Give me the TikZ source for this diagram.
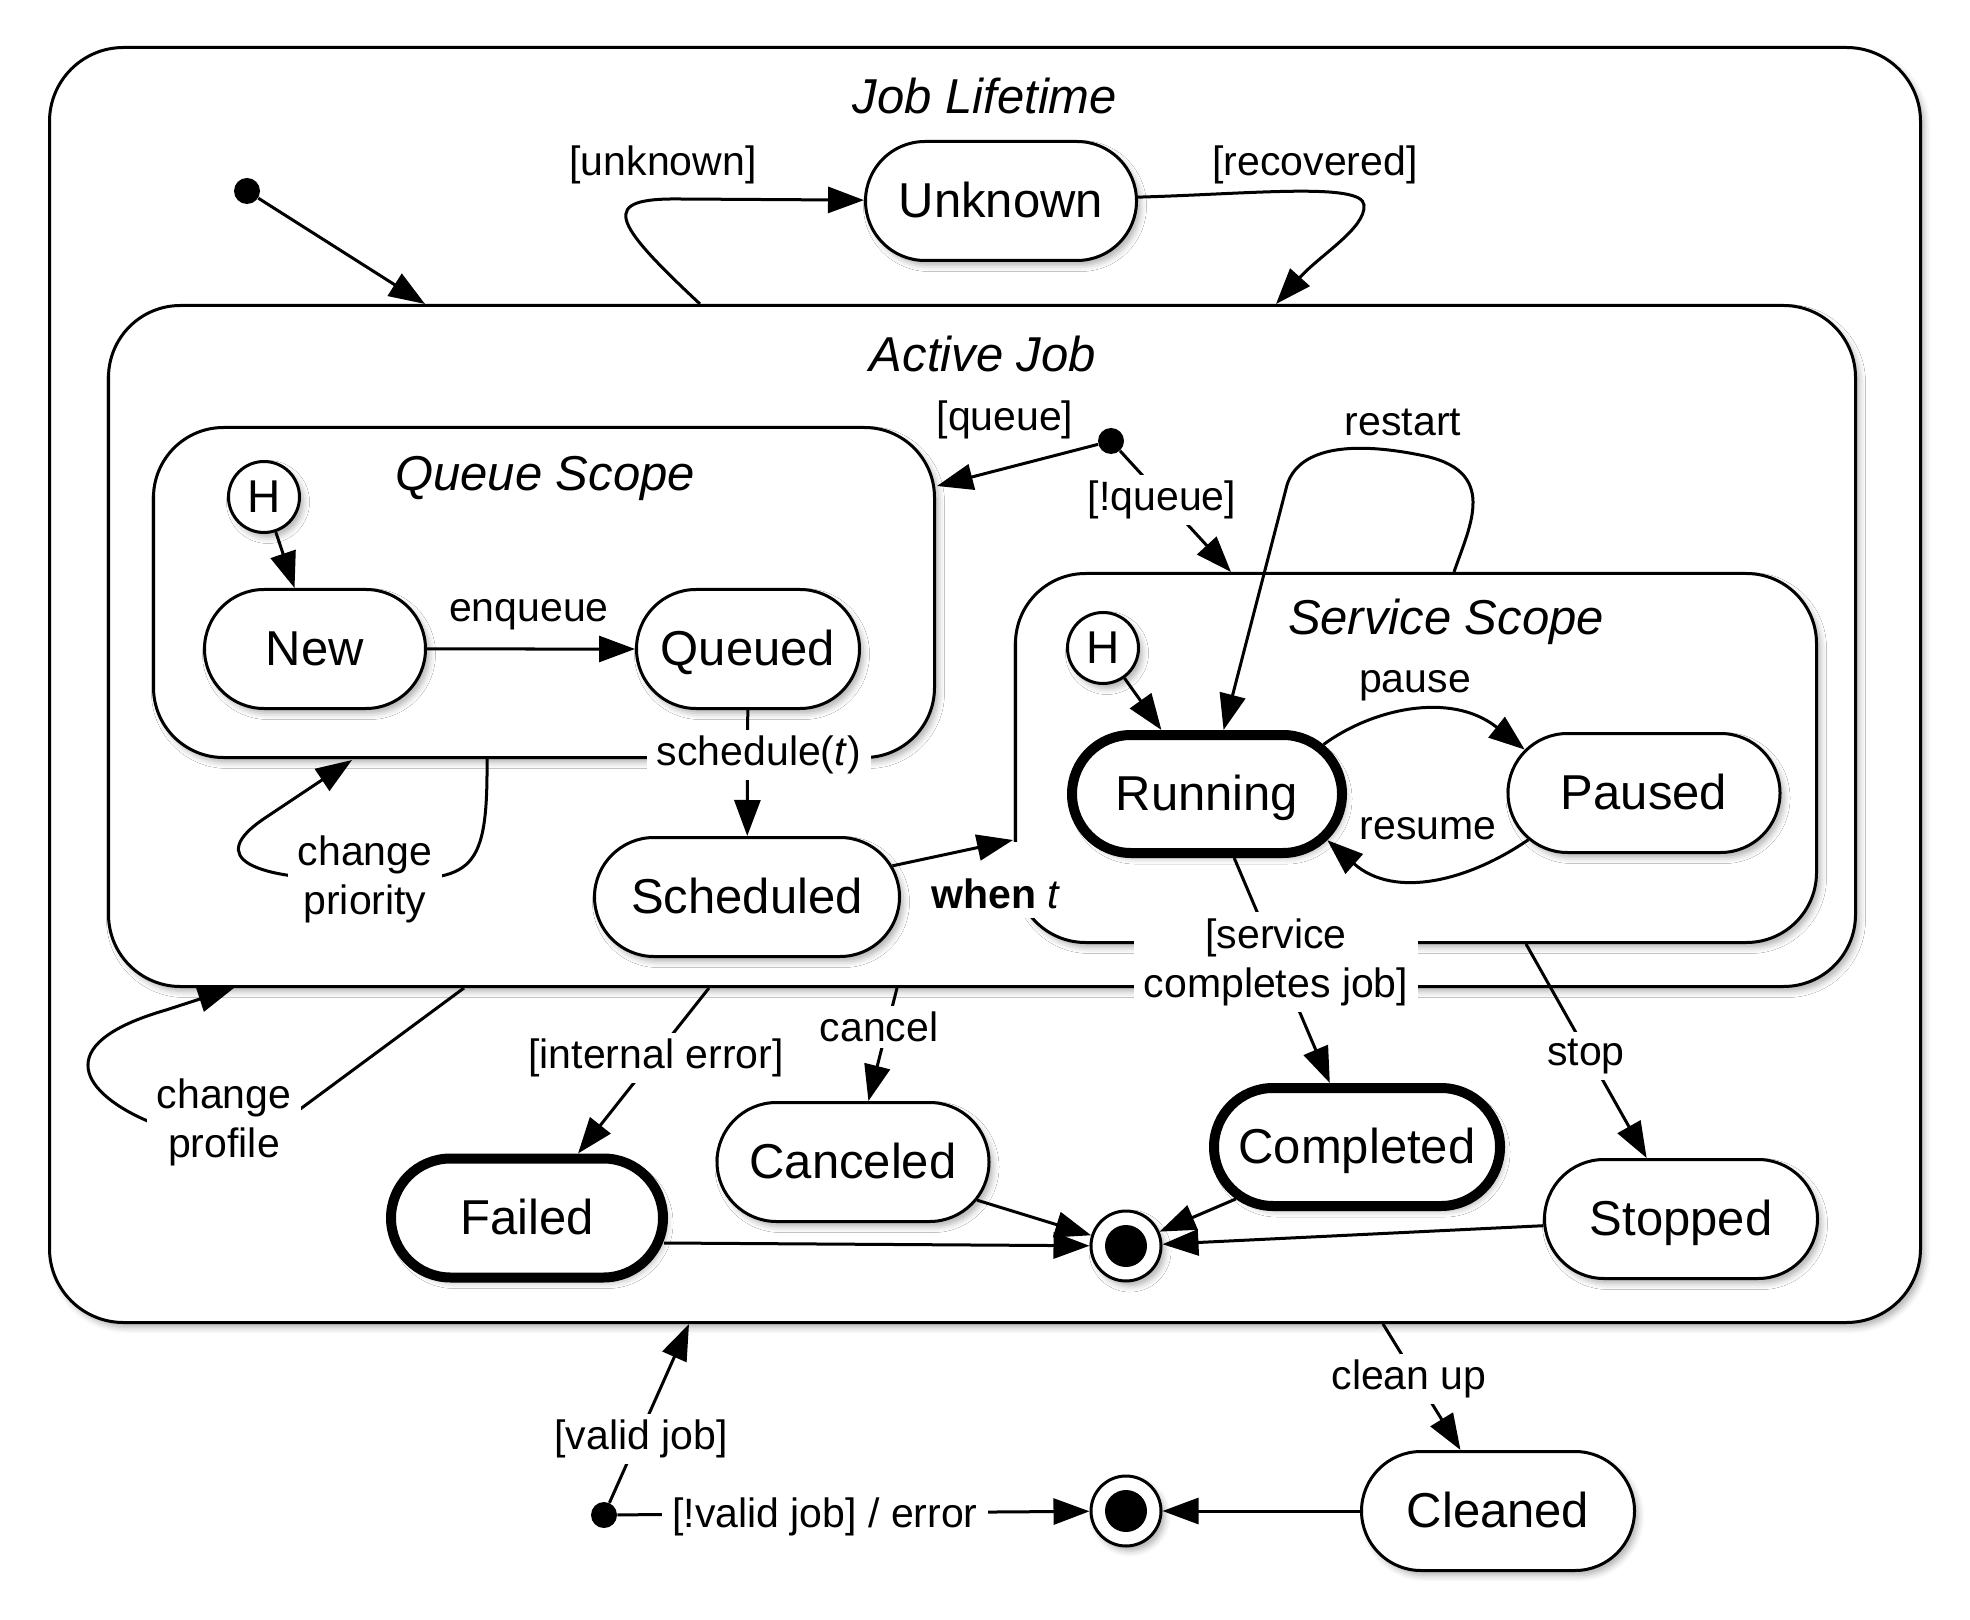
\documentclass[tikz,border=0pt]{standalone}
\usepackage{fontspec}
\setmainfont{Liberation Sans}
\usetikzlibrary{arrows.meta,shapes.misc,shadows.blur,calc}
\begin{document}
\begin{tikzpicture}[x=0.5pt,y=-0.5pt,
  lbl/.style={font=\fontsize{20.5}{24.5}\selectfont, inner sep=0pt},
  wlbl/.style={lbl, fill=white, inner xsep=5pt, inner ysep=3pt, align=center},
  ttl/.style={font=\fontsize{24.5}{28}\selectfont\itshape, inner sep=0pt},
  shd/.style={blur shadow={shadow xshift=2pt, shadow yshift=-2.5pt, shadow opacity=30, shadow blur radius=3pt}},
  box/.style={draw, line width=1.5pt, fill=white, rectangle, rounded corners=36pt, shd},
  st/.style={draw, line width=1.5pt, fill=white, rounded rectangle, minimum height=59.5pt, inner xsep=0pt, inner ysep=0pt,
     font=\fontsize{24.5}{28}\selectfont, text height=22pt, text depth=5.2pt, shd},
  stk/.style={st, line width=5pt, minimum height=59pt},
  hist/.style={draw, circle, line width=1.5pt, fill=white, minimum size=35.5pt, inner sep=0pt, font=\fontsize{23}{26}\selectfont, shd},
  init/.style={circle, fill=black, minimum size=13pt, inner sep=0pt},
  fin/.style={draw, circle, line width=1.5pt, fill=white, minimum size=35pt, inner sep=0pt, shd,
     path picture={\fill[black] (path picture bounding box.center) circle (10.5pt);}},
  arr/.style={line width=1.5pt, -{Triangle[length=18pt,width=13pt]}}]
\useasboundingbox (0,0) rectangle (1970,1620);

% composite states
\node[box, minimum width=935.5pt, minimum height=637.5pt, rounded corners=37pt] (job) at (985,685) {};
\node[box, minimum width=873.5pt, minimum height=340.5pt] (active) at (982,646) {};
\node[box, minimum width=390.5pt, minimum height=165pt, rounded corners=35pt] (queue) at (544,592.5) {};
\node[box, minimum width=400.5pt, minimum height=184.5pt, rounded corners=35pt] (service) at (1416,758) {};

% titles
\node[ttl] (tjob) at (985,96) {Job Lifetime};
\node[ttl] (tactive) at (983,354) {Active Job};
\node[ttl] (tqueue) at (545,478) {Queue Scope};
\node[ttl] (tservice) at (1446,622) {Service Scope};

% states
\node[st, minimum width=135.5pt] (unknown) at (1001,201) {Unknown};
\node[st, minimum width=110.5pt] (new) at (315,649) {New};
\node[st, minimum width=111.5pt] (queued) at (748,649) {Queued};
\node[st, minimum width=152.5pt] (scheduled) at (747,897) {Scheduled};
\node[stk, minimum width=135pt] (running) at (1207,794) {Running};
\node[st, minimum width=136pt] (paused) at (1644,793) {Paused};
\node[stk, minimum width=136pt, minimum height=59.5pt] (failed) at (527,1218) {Failed};
\node[st, minimum width=136pt] (canceled) at (853,1162) {Canceled};
\node[stk, minimum width=143pt] (completed) at (1357,1147) {Completed};
\node[st, minimum width=136.5pt] (stopped) at (1681,1219) {Stopped};
\node[st, minimum width=136.5pt] (cleaned) at (1498,1511) {Cleaned};

\node[hist] (h1) at (264,497) {H};
\node[hist] (h2) at (1103,648) {H};

\node[init] (i1) at (247,191) {};
\node[init] (i2) at (1111,441) {};
\node[init] (i3) at (604,1515) {};
\node[fin] (f1) at (1126,1246) {};
\node[fin] (f2) at (1126,1511) {};

% label that hides the service scope corner
\node[wlbl, anchor=base west, text height=30pt, text depth=2pt] (lwhen) at (921,908) {\textbf{when} \textit{t}};

% border points
\coordinate (a1) at (425,304);
\coordinate (a2) at (700,304);
\coordinate (a3) at (1276,304);
\coordinate (qr) at (937,486);
\coordinate (st1) at (1231,572);
\coordinate (st2) at (1454,572);
\coordinate (sl) at (1013,840);
\coordinate (q1) at (487,759);
\coordinate (q2) at (352,760);
\coordinate (a4) at (464,988);
\coordinate (a5) at (234,988);
\coordinate (a6) at (709,988);
\coordinate (a7) at (897,988);
\coordinate (sb) at (1526,944);
\coordinate (j1) at (689,1324);
\coordinate (j2) at (1383,1324);

% connectors
\draw[arr] (i1) -- (a1);
\draw[arr] (a2) .. controls (610,220) and (600,198) .. (680,199) -- (unknown);
\draw[arr] (unknown) .. controls (1250,194) and (1362,182) .. (1364,205) .. controls (1366,228) and (1320,255) .. (a3);
\draw[arr] (i2) -- (qr);
\draw[arr] (i2) -- (st1);
\draw[arr] (st2) .. controls (1470,525) and (1500,470) .. (1420,455) .. controls (1345,440) and (1298,450) .. (1287,485) -- (running);
\draw[arr] (h1) -- (new);
\draw[arr] (h2) -- (running);
\draw[arr] (new) -- (queued);
\draw[arr] (queued) -- (scheduled);
\draw[arr] (scheduled) -- (sl);
\draw[arr] (running.23.5) .. controls (1370,710) and (1450,690) .. (paused.160);
\draw[arr] (paused.202.7) .. controls (1470,880) and (1395,900) .. (running.-21.5);
\draw[arr] (running) -- (completed);
\draw[arr] (sb) -- (stopped);
\draw[arr] (a6) -- (failed);
\draw[arr] (a7) -- (canceled);
\draw[arr] ($(failed.east)+(-4,25)$) -- (f1);
\draw[arr] (canceled) -- (f1);
\draw[arr] (completed) -- (f1);
\draw[arr] (stopped) -- (f1);
\draw[arr] (i3) -- (j1);
\draw[arr] (i3) -- (f2);
\draw[arr] (cleaned) -- (f2);
\draw[arr] (j2) -- (cleaned);
\draw[arr] (q1) .. controls (488,880) and (470,880) .. (365,880) .. controls (250,880) and (205,858) .. (265,818) -- (q2);
\draw[arr] (a4) -- (303,1107) .. controls (260,1140) and (180,1140) .. (150,1122) .. controls (85,1095) and (45,1045) .. (166,1010) -- (a5);

% plain labels
\node[lbl] (lunknown) at (663,165) {[unknown]};
\node[lbl] (lrecovered) at (1315,165) {[recovered]};
\node[lbl] (lqueue) at (1005,420) {[queue]};
\node[lbl] (lrestart) at (1403,422) {restart};
\node[lbl] (lenqueue) at (529,615) {enqueue};
\node[lbl] (lpause) at (1415,686) {pause};
\node[lbl] (lresume) at (1428,829) {resume};

% labels with white background
\node[wlbl] (lnqueue) at (1162,500) {[!queue]};
\node[wlbl] (lsched) at (759,755) {schedule(\textit{t})};
\node[wlbl] (lprio) at (365,879) {change\\priority};
\node[wlbl] (lprof) at (224,1122) {change\\profile};
\node[wlbl] (lint) at (656,1058) {[internal error]};
\node[wlbl] (lcancel) at (879,1027) {cancel};
\node[wlbl] (lserv) at (1276,962) {[service\\completes job]};
\node[wlbl] (lstop) at (1586,1056) {stop};
\node[wlbl] (lvalid) at (641,1439) {[valid job]};
\node[wlbl] (lnvalid) at (825,1517) {[!valid job] / error};
\node[wlbl] (lclean) at (1409,1379) {clean up};
\end{tikzpicture}
\end{document}
